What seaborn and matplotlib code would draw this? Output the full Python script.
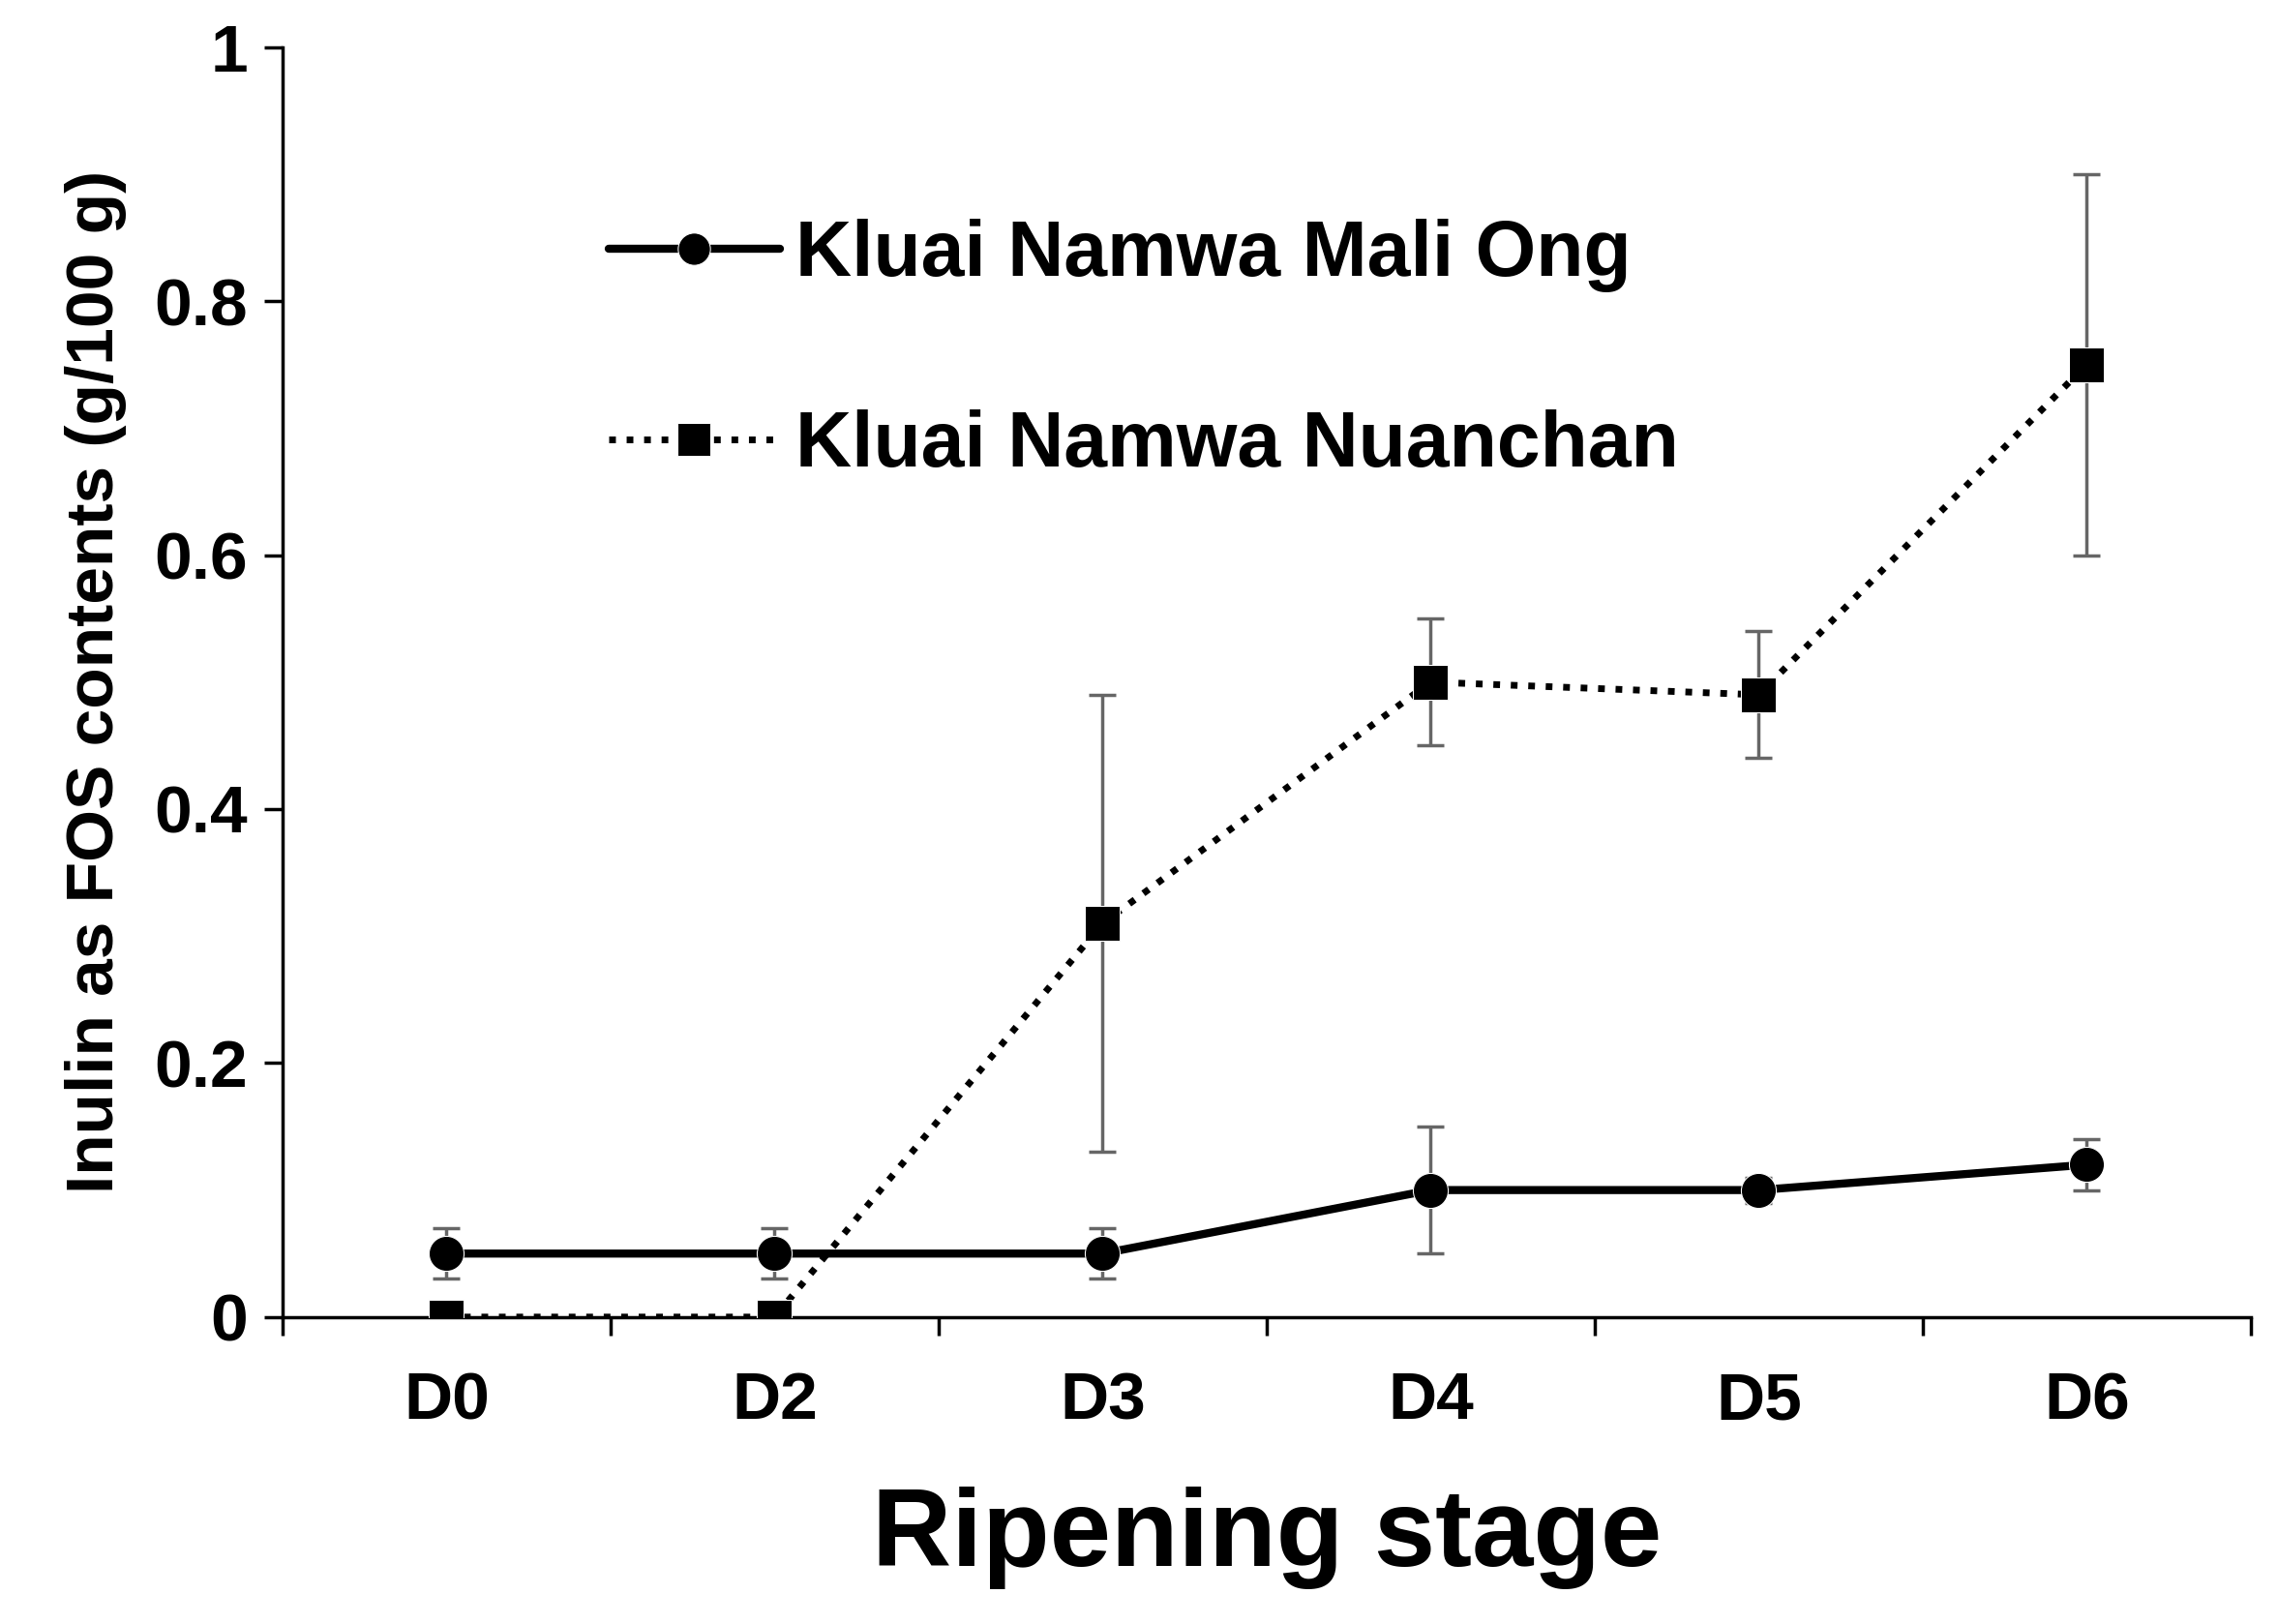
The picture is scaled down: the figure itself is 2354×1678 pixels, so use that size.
import matplotlib
matplotlib.use("Agg")
import matplotlib.pyplot as plt
import seaborn as sns
import pandas as pd
import numpy as np

stages = ["D0", "D2", "D3", "D4", "D5", "D6"]
mali_ong = [0.05, 0.05, 0.05, 0.10, 0.10, 0.12]
mali_ong_err = [0.02, 0.02, 0.02, 0.05, 0.01, 0.02]
nuanchan = [0.0, 0.0, 0.31, 0.50, 0.49, 0.75]
nuanchan_err = [0.0, 0.0, 0.18, 0.05, 0.05, 0.15]

sns.set_style("ticks")
plt.rcParams['font.family'] = ['Liberation Sans', 'DejaVu Sans']
plt.rcParams['font.weight'] = 'bold'
plt.rcParams['text.color'] = 'black'
plt.rcParams['xtick.color'] = 'black'
plt.rcParams['ytick.color'] = 'black'
plt.rcParams['axes.labelcolor'] = 'black'

x = np.arange(len(stages))
df = pd.DataFrame({"x": np.concatenate([x, x]),
                   "y": mali_ong + nuanchan,
                   "variety": ["Kluai Namwa Mali Ong"] * 6 + ["Kluai Namwa Nuanchan"] * 6})

fig = plt.figure(figsize=(23.54, 16.78), dpi=100)
ax = fig.add_axes([0.124, 0.189, 0.864, 0.782])

# error bars first so markers sit on top
ax.errorbar(x, mali_ong, yerr=mali_ong_err, fmt='none', ecolor='#666666',
            elinewidth=2.5, capsize=10, capthick=2.5, zorder=1)
ax.errorbar(x, nuanchan, yerr=nuanchan_err, fmt='none', ecolor='#666666',
            elinewidth=2.5, capsize=10, capthick=2.5, zorder=1)

sns.lineplot(data=df, x="x", y="y", hue="variety", style="variety",
             palette=["black", "black"], dashes=[(None, None), (1, 1.6)],
             markers=["o", "s"], markersize=26, linewidth=6, ax=ax, zorder=3)
for line in ax.lines:
    if line.get_linestyle() != '-':
        line.set_linewidth(5)

ax.set_xlim(-0.5, 5.5)
ax.set_ylim(0, 1)
ax.set_xticks(x)
ax.set_xticklabels(stages)
ax.set_xticks(np.arange(-0.5, 6, 1), minor=True)
ax.tick_params(axis='x', which='major', length=0, pad=40, labelsize=50)
ax.tick_params(axis='x', which='minor', length=14, width=2.5)
ax.tick_params(axis='y', length=14, width=2.5, labelsize=50, pad=12)
ax.set_yticks([0, 0.2, 0.4, 0.6, 0.8, 1])
ax.set_yticklabels(["0", "0.2", "0.4", "0.6", "0.8", "1"])
for s in ["left", "bottom"]:
    ax.spines[s].set_linewidth(2.5)
    ax.spines[s].set_color('black')
sns.despine(ax=ax)

ax.set_xlabel("Ripening stage", fontsize=82, fontweight='bold', labelpad=40)
ax.set_ylabel("Inulin as FOS contents (g/100 g)", fontsize=50, fontweight='bold', labelpad=20)

leg = ax.legend(loc='upper left', bbox_to_anchor=(0.13, 0.92), frameon=False,
                fontsize=58, labelspacing=1.5, handlelength=2.2, handletextpad=0.2,
                title=None)
for h in leg.legend_handles:
    h.set_markersize(24)

fig.savefig("out.png", dpi=100)
